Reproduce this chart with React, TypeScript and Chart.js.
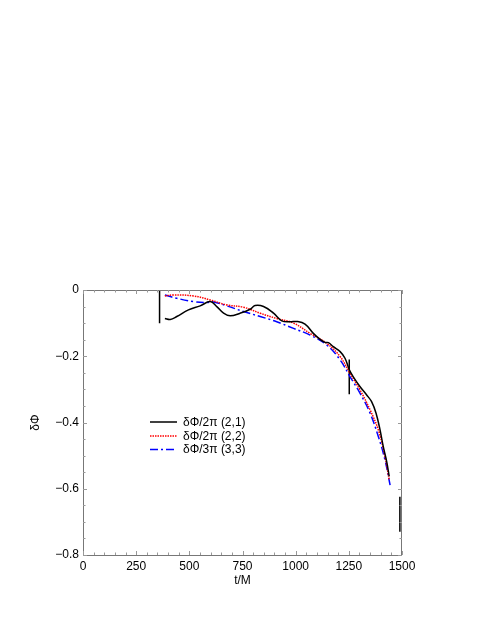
import React, { useEffect, useRef } from "react";
import { Chart, registerables } from "chart.js";

Chart.register(...registerables);

// (2,1) black solid
const t21 = [385, 410, 441, 496, 551, 598, 629, 661, 692, 739, 786, 809, 849, 896, 935, 974, 1005, 1044, 1083, 1115, 1138, 1154, 1177, 1209, 1232, 1253, 1271, 1303, 1334, 1357, 1378, 1397, 1412, 1428, 1440];
const y21 = [-0.086, -0.089, -0.08, -0.06, -0.048, -0.035, -0.05, -0.07, -0.078, -0.07, -0.058, -0.047, -0.05, -0.07, -0.093, -0.096, -0.095, -0.103, -0.131, -0.149, -0.158, -0.159, -0.171, -0.186, -0.206, -0.242, -0.262, -0.292, -0.317, -0.337, -0.372, -0.423, -0.473, -0.518, -0.563];

// (2,2) red dotted
const t22 = [385, 426, 520, 598, 676, 755, 833, 911, 990, 1068, 1146, 1209, 1256, 1303, 1350, 1389, 1420, 1440];
const y22 = [-0.018, -0.015, -0.018, -0.03, -0.045, -0.052, -0.07, -0.086, -0.1, -0.131, -0.161, -0.201, -0.252, -0.302, -0.362, -0.423, -0.503, -0.574];

// (3,3) blue dash-dot
const t33 = [385, 441, 520, 582, 614, 676, 755, 833, 911, 990, 1068, 1146, 1209, 1256, 1303, 1350, 1389, 1420, 1444];
const y33 = [-0.015, -0.025, -0.035, -0.038, -0.036, -0.048, -0.065, -0.08, -0.096, -0.116, -0.136, -0.166, -0.211, -0.262, -0.312, -0.372, -0.443, -0.513, -0.589];

// vertical marker bars
const barT = [360, 1252, 1490];
const barTop = [0, -0.21, -0.624];
const barBottom = [-0.1, -0.315, -0.73];

const seriesLabels = ["δΦ/2π (2,1)", "δΦ/2π (2,2)", "δΦ/3π (3,3)"];
const xTicks = [0, 250, 500, 750, 1000, 1250, 1500];
const yTicks = [0, -0.2, -0.4, -0.6, -0.8];

const FONT = "'Liberation Sans', Arial, Helvetica, sans-serif";

const pts = (t: number[], y: number[]) => t.map((v, i) => ({ x: v, y: y[i] }));

const framePlugin = {
  id: "frameTicks",
  afterDraw(chart: any) {
    const { ctx, chartArea: a, scales } = chart;
    const xs = scales.x;
    const ys = scales.y;
    ctx.save();
    ctx.strokeStyle = "#777";
    ctx.lineWidth = 1;
    ctx.strokeRect(Math.round(a.left) + 0.5, Math.round(a.top) + 0.5, Math.round(a.right - a.left) - 1, Math.round(a.bottom - a.top));
    ctx.strokeStyle = "#999";
    ctx.beginPath();
    for (let v = 0; v <= 1500; v += 50) {
      const px = Math.round(xs.getPixelForValue(v)) + 0.5;
      const len = v % 250 === 0 ? 4 : 2.5;
      ctx.moveTo(px, a.bottom);
      ctx.lineTo(px, a.bottom - len);
      ctx.moveTo(px, a.top);
      ctx.lineTo(px, a.top + len);
    }
    for (let i = 0; i <= 16; i++) {
      const v = -i * 0.05;
      const py = Math.round(ys.getPixelForValue(v)) + 0.5;
      const len = i % 4 === 0 ? 4 : 2.5;
      ctx.moveTo(a.left, py);
      ctx.lineTo(a.left + len, py);
      ctx.moveTo(a.right, py);
      ctx.lineTo(a.right - len, py);
    }
    ctx.stroke();

    // legend
    const lx0 = 150, lx1 = 177, tx = 183;
    const rows = [422, 436, 449.5];
    ctx.font = `12px ${FONT}`;
    ctx.textBaseline = "middle";
    ctx.textAlign = "left";
    for (let i = 0; i < 3; i++) {
      const ds = chart.data.datasets[i];
      ctx.strokeStyle = ds.borderColor;
      ctx.lineWidth = ds.borderWidth;
      ctx.setLineDash(ds.borderDash || []);
      ctx.beginPath();
      ctx.moveTo(lx0, rows[i]);
      ctx.lineTo(lx1, rows[i]);
      ctx.stroke();
      ctx.setLineDash([]);
      ctx.fillStyle = "#000";
      ctx.fillText(ds.label, tx, rows[i] + 0.5);
    }
    ctx.restore();
  },
};

export default function App() {
  const ref = useRef<HTMLCanvasElement | null>(null);
  useEffect(() => {
    if (!ref.current) return;
    const datasets: any[] = [
      { label: seriesLabels[0], data: pts(t21, y21), borderColor: "#000", borderWidth: 1.5, borderDash: [], tension: 0.4 },
      { label: seriesLabels[1], data: pts(t22, y22), borderColor: "#ff0000", borderWidth: 1.5, borderDash: [1.5, 1], tension: 0.4 },
      { label: seriesLabels[2], data: pts(t33, y33), borderColor: "#0000ff", borderWidth: 1.5, borderDash: [8, 3, 2, 3], tension: 0.4 },
    ];
    barT.forEach((t, i) => {
      datasets.push({ label: "", data: [{ x: t, y: barTop[i] }, { x: t, y: barBottom[i] }], borderColor: "#000", borderWidth: 1.5, tension: 0 });
    });
    const chart = new Chart(ref.current, {
      type: "line",
      data: { datasets },
      options: {
        animation: false,
        responsive: false,
        layout: { padding: { left: 24, top: 290, right: 83, bottom: 35 } },
        elements: { point: { radius: 0 }, line: { fill: false } },
        plugins: { legend: { display: false }, tooltip: { enabled: false } },
        scales: {
          x: {
            type: "linear",
            min: 0,
            max: 1500,
            afterFit: (s: any) => { s.height = 37; },
            afterBuildTicks: (s: any) => { s.ticks = xTicks.map((v) => ({ value: v })); },
            grid: { display: false, drawTicks: false },
            border: { display: false },
            ticks: {
              color: "#000",
              font: { family: FONT, size: 12 },
              padding: 4,
              maxRotation: 0,
              autoSkip: false,
              callback: (v: any) => String(v),
            },
            title: { display: true, text: "t/M", color: "#000", font: { family: FONT, size: 12 }, padding: { top: 4, bottom: 4 } },
          },
          y: {
            type: "linear",
            min: -0.8,
            max: 0,
            afterFit: (s: any) => { s.width = 59; },
            afterBuildTicks: (s: any) => { s.ticks = yTicks.map((v) => ({ value: v })); },
            grid: { display: false, drawTicks: false },
            border: { display: false },
            ticks: {
              color: "#000",
              font: { family: FONT, size: 12 },
              padding: 4,
              autoSkip: false,
              callback: (v: any) => (Number(v) === 0 ? "0" : "\u2212" + Math.abs(Number(v)).toFixed(1)),
            },
            title: { display: true, text: "δΦ", color: "#000", font: { family: FONT, size: 12 }, padding: { top: 4, bottom: 4 } },
          },
        },
      },
      plugins: [framePlugin],
    });
    return () => chart.destroy();
  }, []);
  return (
    <div style={{ position: "fixed", left: 0, top: 0, width: 485, height: 627, background: "#fff" }}>
      <canvas ref={ref} width={485} height={627} style={{ display: "block" }} />
    </div>
  );
}
